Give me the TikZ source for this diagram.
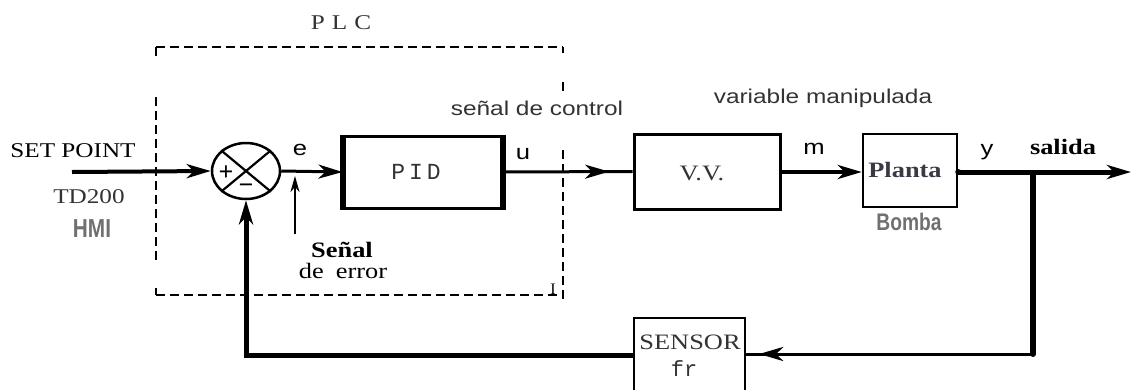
\documentclass[tikz,border=0pt]{standalone}
\usepackage{fontspec}
\setmainfont{Liberation Serif}
\newfontfamily\serifw[FakeStretch=1.2]{Liberation Serif}
\newfontfamily\arialw[FakeStretch=1.22]{Liberation Sans}
\newfontfamily\monow{Liberation Mono}
\newfontfamily\narrowb[FakeStretch=0.8]{Liberation Sans}
\usetikzlibrary{arrows.meta,decorations.markings,shapes.geometric}
\definecolor{dgray}{HTML}{333333}
\definecolor{mgray}{HTML}{707070}
\definecolor{pgray}{HTML}{3A3A46}
\tikzset{
  lbl/.style={inner sep=0pt, anchor=center},
  blk/.style={draw, rectangle, inner sep=0pt, line width=2.5pt},
  plcline/.style={line width=2pt, dash pattern=on 9pt off 5pt},
  tip/.style={-{Stealth[length=24pt,width=14pt,inset=7pt]}},
  midarr/.style={postaction={decorate},decoration={markings,
     mark=at position #1 with {\arrow{Stealth[length=24pt,width=14pt,inset=7pt]}}}},
  dotc/.style={circle, fill=black, inner sep=0pt, minimum size=6pt}
}
\begin{document}
\begin{tikzpicture}[x=1pt,y=-1pt]
\useasboundingbox (0,0) rectangle (1131,389);
\clip (0,0) rectangle (1131,389);

% PLC dashed frame
\draw[plcline] (156,47) -- (563,47);
\draw[plcline] (156,295) -- (563,295);
\draw[plcline] (156,47) -- (156,57);
\draw[plcline] (156,97) -- (156,263);
\draw[plcline] (156,288) -- (156,295);
\draw[plcline] (563,47) -- (563,53);
\draw[plcline] (563,82) -- (563,91);
\draw[plcline] (563,150) -- (563,300);
\node[lbl] (plc) at (341,23) {\fontsize{21}{22}\selectfont\serifw\color{dgray}P\hspace{7pt}L\hspace{7pt}C};
\node[lbl] (cursor) at (553,289) {\fontsize{16}{16}\selectfont I};

% blocks
\node[draw, ellipse, line width=2.5pt, minimum width=68pt, minimum height=56pt, inner sep=0pt] (sum) at (246,171) {};
\draw[line width=2.2pt] (sum.north east) -- (sum.south west);
\draw[line width=2.2pt] (sum.north west) -- (sum.south east);
\node[lbl] (plus) at (226,173) {\fontsize{26}{26}\selectfont\bfseries +};
\node[lbl] (minus) at (246,189) {\fontsize{26}{26}\selectfont\bfseries −};

\node[blk, line width=3pt, minimum width=157pt, minimum height=72pt] (pid) at (422.5,172) {};
\draw[line width=6pt] (pid.north west) -- (pid.south west);
\draw[line width=6pt] (pid.north east) -- (pid.south east);
\node[lbl] (pidt) at (416,172) {\fontsize{23}{23}\selectfont\monow\color{dgray}P\hspace{4pt}I\hspace{4pt}D};

\node[blk, line width=3pt, minimum width=146pt, minimum height=75pt] (vv) at (707,171.5) {};
\node[lbl] (vvt) at (702,173) {\fontsize{22}{22}\selectfont\serifw\color{dgray}V.V.};

\node[blk, minimum width=94pt, minimum height=73pt] (planta) at (910,170.5) {};
\node[lbl] (plantat) at (905,170) {\fontsize{22}{22}\selectfont\serifw\bfseries\color{pgray}Planta};
\node[lbl] (bomba) at (909,222) {\fontsize{24}{24}\selectfont\narrowb\bfseries\color{mgray}Bomba};

\node[blk, minimum width=111pt, minimum height=76pt] (sensor) at (689.5,356) {};
\node[lbl] (sensort) at (690,342) {\fontsize{22}{22}\selectfont\serifw\color{dgray}SENSOR};
\node[lbl] (frt) at (684,369) {\fontsize{22}{22}\selectfont\monow\color{dgray}fr};

% texts
\node[lbl] (sp) at (73,151) {\fontsize{21}{22}\selectfont\serifw SET POINT};
\node[lbl] (td) at (89,197) {\fontsize{21}{22}\selectfont\serifw\color{dgray}TD200};
\node[lbl] (hmi) at (92,229) {\fontsize{26}{26}\selectfont\narrowb\bfseries\color{mgray}HMI};
\node[lbl] (e) at (300,150) {\fontsize{21}{21}\selectfont\arialw e};
\node[lbl] (u) at (523,154) {\fontsize{21}{21}\selectfont\arialw u};
\node[lbl] (m) at (814,149) {\fontsize{21}{21}\selectfont\arialw m};
\node[lbl] (y) at (987,152) {\fontsize{21}{21}\selectfont\arialw y};
\node[lbl] (sc) at (537,108) {\fontsize{20}{20}\selectfont\arialw\color{dgray}señal de control};
\node[lbl] (vm) at (823,98) {\fontsize{20}{20}\selectfont\arialw\color{dgray}variable manipulada};
\node[lbl] (sal) at (1063,147) {\fontsize{22}{22}\selectfont\serifw\bfseries salida};
\node[lbl] (sen) at (342,250) {\fontsize{22}{22}\selectfont\serifw\bfseries Señal};
\node[lbl] (err) at (343,271) {\fontsize{22}{22}\selectfont\serifw de\hspace{12pt}error};

% connectors
\coordinate (in) at (72,172);
\draw[line width=4pt, tip] (in) -- (sum.west);
\draw[line width=3pt, tip] (sum.east) -- (pid.west);
\coordinate (errb) at (295,234);
\coordinate (errt) at (295,176);
\draw[line width=2pt, -{Stealth[length=16pt,width=9pt,inset=5pt]}] (errb) -- (errt);
\draw[line width=3pt, midarr=0.82] (pid.east) -- (vv.west);
\draw[line width=4pt, tip] (vv.east |- 0,172) -- (planta.west |- 0,172);
\coordinate (out) at (1131,172);
\draw[line width=5pt, tip] (planta.east |- 0,172) -- (out);
\node[dotc] (pd) at (planta.east |- 0,172) {};
\coordinate (j) at (1033,172);
\coordinate (jb) at (1033,354);
\draw[line width=6pt] (j) -- (jb);
\node[dotc] (jd) at (jb) {};
\draw[line width=3pt, midarr=0.955] (jb) -- (sensor.east |- jb);
\coordinate (fb) at (246,355);
\draw[line width=5pt, tip] (sensor.west |- fb) -- (fb) -- (sum.south);
\end{tikzpicture}
\end{document}
